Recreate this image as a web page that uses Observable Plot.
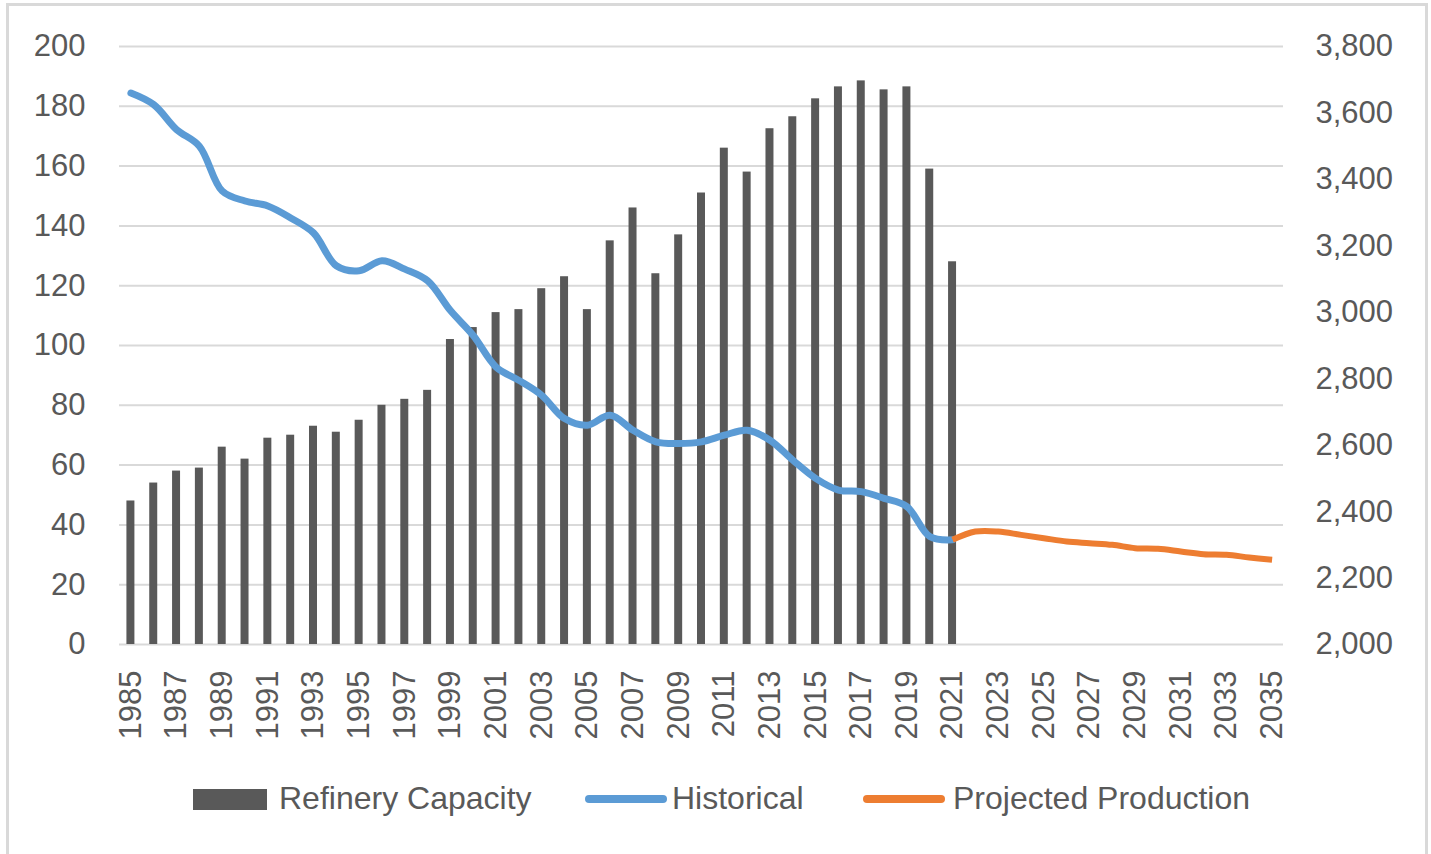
<!DOCTYPE html>
<html>
<head>
<meta charset="utf-8">
<script src="https://cdn.jsdelivr.net/npm/d3@7"></script>
<script src="https://cdn.jsdelivr.net/npm/@observablehq/plot@0.6"></script>
<style>
  html, body { margin: 0; padding: 0; background: #fff; overflow: hidden; }
  body { width: 1431px; height: 854px; position: relative; font-family: 'Liberation Sans', Arial, sans-serif; color: #595959; }
  #frame { position: absolute; left: 6px; top: 3px; width: 1422px; height: 880px; border: 3px solid #d9d9d9; box-sizing: border-box; pointer-events: none; }
  #chart { position: absolute; left: 0; top: 0; }
  #legend { position: absolute; left: 0; top: 760px; width: 1431px; height: 80px; }
  #legend .sw { position: absolute; top: 29px; width: 74px; height: 21px; background: #595959; }
  #legend .ln { position: absolute; top: 35px; width: 82px; height: 8px; border-radius: 4px; }
  #legend .tx { position: absolute; top: 18px; line-height: 40px; font-size: 32px; white-space: nowrap; color: #595959; }
</style>
</head>
<body>
<div id="chart"></div>
<div id="legend">
  <div class="sw" style="left:193px"></div>
  <span class="tx" style="left:279px">Refinery Capacity</span>
  <div class="ln" style="left:585px;background:#5B9BD5"></div>
  <span class="tx" style="left:672px">Historical</span>
  <div class="ln" style="left:863px;background:#ED7D31"></div>
  <span class="tx" style="left:953px">Projected Production</span>
</div>
<div id="frame"></div>
<script>
// Categories: years on the x axis
const years = [1985,1986,1987,1988,1989,1990,1991,1992,1993,1994,1995,1996,1997,1998,1999,
  2000,2001,2002,2003,2004,2005,2006,2007,2008,2009,2010,2011,2012,2013,2014,2015,2016,2017,
  2018,2019,2020,2021,2022,2023,2024,2025,2026,2027,2028,2029,2030,2031,2032,2033,2034,2035];

// Refinery Capacity (left axis), 1985-2021
const capacity = [48,54,58,59,66,62,69,70,73,71,75,80,82,85,102,106,111,112,119,123,112,135,146,
  124,137,151,166,158,172.5,176.5,182.5,186.5,188.5,185.5,186.5,159,128];

// Historical production (right axis), 1985-2021
const historical = [3660,3625,3550,3500,3365,3335,3320,3284,3239,3140,3125,3155,3130,3095,3005,
  2930,2835,2795,2750,2680,2660,2690,2645,2610,2605,2610,2630,2645,2615,2555,2500,2465,2460,
  2440,2415,2325,2315];

// Projected production (right axis), 2021-2035
const projected = [2315,2340,2340,2330,2320,2310,2305,2300,2290,2288,2280,2272,2270,2262,2255];

// Tick labels
const leftTicks = [0,20,40,60,80,100,120,140,160,180,200];
const rightTicks = [2000,2200,2400,2600,2800,3000,3200,3400,3600,3800];
const xTickYears = years.filter(y => y % 2 === 1);

// Map right-axis values onto the left-axis scale
const rMin = 2000, rMax = 3800, lMax = 200;
const toLeft = v => (v - rMin) / (rMax - rMin) * lMax;
const fromLeft = d => rMin + d / lMax * (rMax - rMin);

const capData = capacity.map((v, i) => ({year: years[i], value: v}));
const histData = historical.map((v, i) => ({year: years[i], value: v}));
const projStart = years.indexOf(2021);
const projData = projected.map((v, i) => ({year: years[projStart + i], value: v}));

const fmt = d3.format(",");

const chart = Plot.plot({
  width: 1431,
  height: 760,
  marginLeft: 119,
  marginRight: 148,
  marginTop: 46,
  marginBottom: 116,
  style: {
    fontFamily: "'Liberation Sans', Arial, sans-serif",
    fontSize: "31px",
    color: "#595959",
    background: "transparent",
    overflow: "visible"
  },
  x: {type: "band", domain: years, paddingInner: 0.65, paddingOuter: 0.325},
  y: {domain: [0, lMax], nice: false},
  marks: [
    Plot.gridY(leftTicks, {stroke: "#d9d9d9", strokeOpacity: 1, strokeWidth: 2}),
    Plot.barY(capData, {x: "year", y: "value", fill: "#595959"}),
    Plot.line(histData, {x: "year", y: d => toLeft(d.value), stroke: "#5B9BD5", strokeWidth: 7, curve: "catmull-rom", strokeLinecap: "round", strokeLinejoin: "round"}),
    Plot.line(projData, {x: "year", y: d => toLeft(d.value), stroke: "#ED7D31", strokeWidth: 6, curve: "catmull-rom", strokeLinecap: "butt", strokeLinejoin: "round"}),
    Plot.axisY({anchor: "left", ticks: leftTicks, tickSize: 0, tickPadding: 34, label: null, tickFormat: d => String(d)}),
    Plot.axisY({anchor: "right", ticks: rightTicks.map(toLeft), tickSize: 0, tickPadding: 32, label: null, tickFormat: d => fmt(Math.round(fromLeft(d)))}),
    Plot.axisX({ticks: xTickYears, tickRotate: -90, tickSize: 0, tickPadding: 26, label: null, tickFormat: d => String(d)})
  ]
});
document.getElementById("chart").appendChild(chart);
</script>
</body>
</html>
